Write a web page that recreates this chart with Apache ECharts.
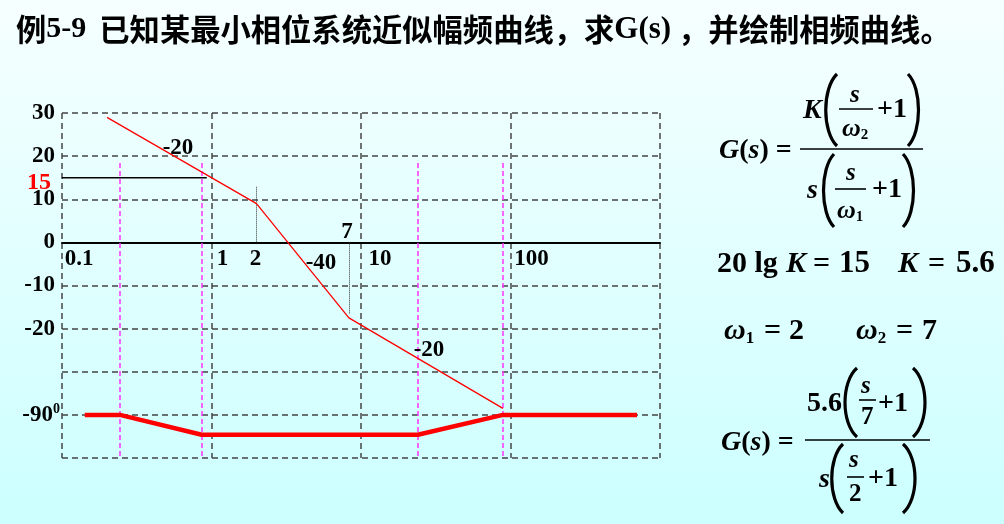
<!DOCTYPE html>
<html><head><meta charset="utf-8">
<script src="https://cdn.jsdelivr.net/npm/echarts@6/dist/echarts.min.js"></script>
<style>html,body{margin:0;padding:0;}#c{width:1004px;height:524px;}</style>
</head><body><div id="c"></div>
<script>
// ---- data ----
const xLabelValues = [0.1, 1, 2, 10, 100];
const magFreq = [0.2, 2, 8.3, 89];
const magDb = [29, 9, -17.5, -38.5];
const phaseFreq = [0.142, 0.244, 0.86, 24, 89, 702];
const phaseLevel = [-40, -40, -44.6, -44.6, -40, -40];
const lowFreqRefFreq = [0.1, 0.93];
const lowFreqRefDb = [15, 15];
const guideFreq = [0.244, 0.86, 24, 89];
const guideTop = 18.4, guideBottom = -50;
const cornerFreq = [2, 8.3];
const cornerDb = [13, -16.6];
const noteText = ['-20', '-40', '7', '-20'];
const noteFreq = [0.597, 5.4, 8.05, 28.5];
const noteDb = [21.9, -4.8, 2.5, -25.0];
const yLabelValues = [30, 20, 15, 10, 0, -10, -20, -40];
const yLabelText = {30:'30',20:'20',15:'15',10:'10',0:'0','-10':'-10','-20':'-20','-40':'-90'};

const serif = '"Liberation Serif","Times New Roman",serif';
const cjk = '"Noto Sans CJK SC","Noto Sans CJK JP",sans-serif';

const chart = echarts.init(document.getElementById('c'));

// x label horizontal shifts (style)
const xPad = {0.1: 34, 1: 22, 2: -2, 10: 38, 100: 42};
const xRich = {};
xLabelValues.forEach((v, i) => {
  const p = xPad[v];
  xRich['x' + i] = {fontFamily: serif, fontWeight: 'bold', fontSize: 23, color: '#000',
    padding: p >= 0 ? [0, 0, 0, p] : [0, -p, 0, 0]};
});

// formula helpers
const G = [];
function txt(x, y, rich, size) {
  G.push({
    type: 'text', x: x, y: y, z: 10,
    style: {text: rich, fill: '#000', font: 'bold ' + size + 'px ' + serif, verticalAlign: 'middle', align: 'left',
      rich: {
        i: {fontFamily: serif, fontWeight: 'bold', fontStyle: 'italic', fontSize: size},
        u: {fontFamily: serif, fontWeight: 'bold', fontSize: size},
        sub: {fontFamily: serif, fontWeight: 'bold', fontSize: Math.round(size * 0.58), padding: [Math.round(size * 0.5), 0, 0, 0]}
      }}
  });
}
function hline(x1, x2, y, w) {
  G.push({type: 'line', z: 10, shape: {x1: x1, y1: y, x2: x2, y2: y}, style: {stroke: '#000', lineWidth: w || 1.6}});
}
function paren(x1, x2, top, bot, left) {
  const h = bot - top;
  const outer = left ? x2 : x1, inner = left ? x1 : x2;
  G.push({type: 'bezierCurve', z: 10, shape: {x1: outer, y1: top, x2: outer, y2: bot,
    cpx1: inner - (left ? 2 : -2), cpy1: top + h * 0.2, cpx2: inner - (left ? 2 : -2), cpy2: bot - h * 0.2},
    style: {stroke: '#000', lineWidth: 3.2, fill: null}});
}

// Formula 1
txt(719, 151, '{i|G}{u|(}{i|s}{u|)}{u| =}', 28);
hline(800, 923, 149);
txt(803, 111, '{i|K}', 28);
paren(824, 837, 74, 146, true);
txt(850, 96, '{i|s}', 25);
hline(839, 873, 109);
txt(842, 129, '{i|ω}{sub|2}', 26);
txt(877, 110, '{u|+1}', 28);
paren(908, 920, 74, 146, false);
txt(807, 191, '{i|s}', 28);
paren(822, 834, 154, 227, true);
txt(846, 174, '{i|s}', 25);
hline(835, 866, 189);
txt(837, 211, '{i|ω}{sub|1}', 26);
txt(872, 190, '{u|+1}', 28);
paren(903, 915, 154, 227, false);

// 20 lg K = 15   K = 5.6
txt(717, 264, '{u|20 lg}', 30);
txt(786, 264, '{i|K}', 30);
txt(813, 264, '{u|=}', 30);
txt(839, 264, '{u|15}', 31);
txt(898, 264, '{i|K}', 30);
txt(928, 264, '{u|=}', 30);
txt(956, 264, '{u|5.6}', 31);
// omega values
txt(724, 331, '{i|ω}{sub|1}', 30);
txt(764, 331, '{u|=}', 30);
txt(789, 331, '{u|2}', 30);
txt(856, 331, '{i|ω}{sub|2}', 30);
txt(896, 331, '{u|=}', 30);
txt(922, 331, '{u|7}', 30);

// Formula 2
txt(721, 443, '{i|G}{u|(}{i|s}{u|)}{u| =}', 28);
hline(805, 930, 440);
txt(807, 404, '{u|5.6}', 28);
paren(843, 857, 368, 437, true);
txt(861, 387, '{i|s}', 25);
hline(859, 876, 400);
txt(861, 418, '{u|7}', 25);
txt(878, 404, '{u|+1}', 28);
paren(913, 927, 368, 437, false);
txt(819, 480, '{i|s}', 28);
paren(830, 843, 444, 513, true);
txt(849, 461, '{i|s}', 25);
hline(847, 864, 477);
txt(849, 495, '{u|2}', 25);
txt(868, 479, '{u|+1}', 28);
paren(903, 917, 444, 513, false);

const gridDash = {color: '#444', width: 1.5, type: [6, 4]};

const option = {
  animation: false,
  backgroundColor: {type: 'linear', x: 0, y: 0, x2: 0, y2: 1,
    colorStops: [{offset: 0, color: '#f6ffff'}, {offset: 1, color: '#ccffff'}]},
  title: {
    left: 11, top: 9,
    text: '{c|例}{n9|5-9}{c|已知某最小相位系统近似幅频曲线，求}{n|G(s)}{c| ，并绘制相频曲线。}',
    textStyle: {
      rich: {
        c: {fontFamily: cjk, fontWeight: 'bold', fontSize: 30.3, color: '#000'},
        n: {fontFamily: serif, fontWeight: 'bold', fontSize: 31, color: '#000'},
        n9: {fontFamily: serif, fontWeight: 'bold', fontSize: 30, color: '#000', padding: [0, 13, 0, 0]}
      }
    }
  },
  grid: {left: 62, right: 344, top: 113, bottom: 66, containLabel: false},
  xAxis: {
    type: 'log', logBase: 10, min: 0.1, max: 1000, z: 3,
    axisLine: {show: true, onZero: false, lineStyle: {color: '#000', width: 2}},
    axisTick: {show: false},
    splitLine: {show: true, lineStyle: gridDash},
    axisLabel: {
      customValues: xLabelValues, margin: 5, align: 'center', verticalAlign: 'top',
      formatter: v => {
        const i = xLabelValues.findIndex(t => Math.abs(t - v) < 1e-9);
        return i < 0 ? '' : '{x' + i + '|' + xLabelValues[i] + '}';
      },
      rich: xRich
    }
  },
  yAxis: {
    type: 'value', min: -50, max: 30, interval: 10,
    axisLine: {show: false}, axisTick: {show: false},
    splitLine: {show: true, lineStyle: gridDash},
    axisLabel: {
      customValues: yLabelValues, margin: 2,
      formatter: v => {
        const t = yLabelText[String(v)];
        if (t === undefined) return '';
        if (v === 15) return '{r|' + t + '}';
        if (v === -40) return '{n0|' + t + '}{s|0}';
        return '{n|' + t + '}';
      },
      rich: {
        n: {fontFamily: serif, fontWeight: 'bold', fontSize: 23, color: '#000', padding: [0, 5, 0, 0]},
        n0: {fontFamily: serif, fontWeight: 'bold', fontSize: 23, color: '#000'},
        s: {fontFamily: serif, fontWeight: 'bold', fontSize: 14, color: '#000', padding: [0, 0, 10, 0]},
        r: {fontFamily: serif, fontWeight: 'bold', fontSize: 24, color: '#ff0000', padding: [10, 9, 0, 0]}
      }
    }
  },
  series: [
    {
      name: 'magnitude', type: 'line', symbol: 'none', z: 5,
      lineStyle: {color: '#ff0000', width: 1.3},
      data: magFreq.map((f, i) => [f, magDb[i]])
    },
    {
      name: 'phase', type: 'line', symbol: 'none', z: 5,
      lineStyle: {color: '#ff0000', width: 4.5},
      data: phaseFreq.map((f, i) => [f, phaseLevel[i]])
    },
    {
      name: 'K level', type: 'line', symbol: 'none', z: 4,
      lineStyle: {color: '#000', width: 1.5},
      data: lowFreqRefFreq.map((f, i) => [f, lowFreqRefDb[i]])
    },
    {
      name: 'guides', type: 'line', symbol: 'none', data: [], z: 2,
      markLine: {
        silent: true, symbol: ['none', 'none'], label: {show: false},
        lineStyle: {color: '#ff33ff', width: 1.5, type: [5, 3]},
        data: guideFreq.map(f => [{coord: [f, guideTop]}, {coord: [f, guideBottom]}])
      }
    },
    {
      name: 'corners', type: 'line', symbol: 'none', data: [], z: 2,
      markLine: {
        silent: true, symbol: ['none', 'none'], label: {show: false},
        lineStyle: {color: '#333', width: 1, type: 'dotted'},
        data: cornerFreq.map((f, i) => [{coord: [f, 0]}, {coord: [f, cornerDb[i]]}])
      }
    },
    {
      name: 'notes', type: 'custom', z: 6, silent: true,
      data: noteFreq.map((f, i) => [f, noteDb[i], i]),
      renderItem: (params, api) => {
        const p = api.coord([api.value(0), api.value(1)]);
        return {
          type: 'text', x: p[0], y: p[1],
          style: {text: noteText[api.value(2)], fill: '#000', font: 'bold 23px ' + serif,
            align: 'center', verticalAlign: 'middle'}
        };
      }
    }
  ],
  graphic: G
};
chart.setOption(option);
// move the frequency axis (line + labels) onto the 0 dB level
const zeroPx = chart.convertToPixel({yAxisIndex: 0}, 0);
const botPx = chart.convertToPixel({yAxisIndex: 0}, -50);
chart.setOption({xAxis: {offset: zeroPx - botPx}});
</script>
</body></html>
